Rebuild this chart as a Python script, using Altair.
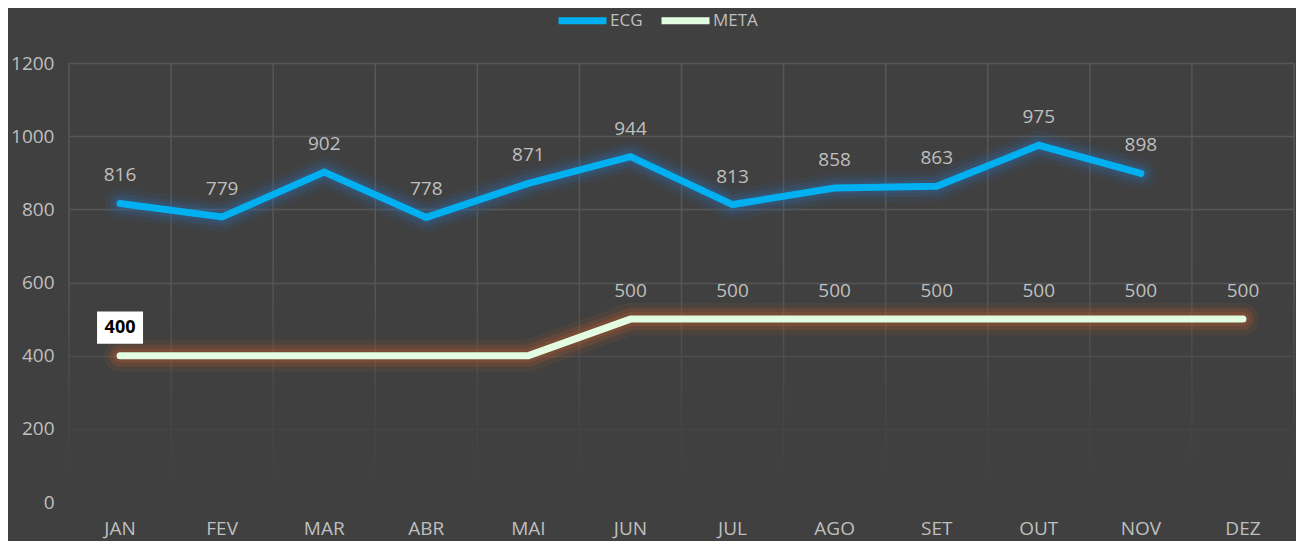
import altair as alt
import pandas as pd

months = ["JAN", "FEV", "MAR", "ABR", "MAI", "JUN", "JUL", "AGO", "SET", "OUT", "NOV", "DEZ"]
ecg = [816, 779, 902, 778, 871, 944, 813, 858, 863, 975, 898, None]
meta = [400, 400, 400, 400, 400, 500, 500, 500, 500, 500, 500, 500]
meta_label_shown = [True, False, False, False, False, True, True, True, True, True, True, True]
highlight_month = "JAN"
y_ticks = [0, 200, 400, 600, 800, 1000, 1200]

FONT = "Open Sans"
LABEL_COLOR = "#bfbfbf"
GRID = "#575757"
BG = "#404040"
W, H = 1225, 439

rows = []
for m, v in zip(months, ecg):
    rows.append({"mes": m, "serie": "ECG", "valor": v, "show": v is not None, "hl": False})
for m, v, s in zip(months, meta, meta_label_shown):
    rows.append({"mes": m, "serie": "META", "valor": v, "show": s, "hl": m == highlight_month})
df = pd.DataFrame(rows)
grid_df = pd.DataFrame({"mes": months})

xscale = alt.Scale(domain=months, type="band", paddingInner=0, paddingOuter=0)
yscale = alt.Scale(domain=[0, 1200])

def X(bp=0.5):
    return alt.X("mes:N", scale=xscale, bandPosition=bp, title=None)

Y = alt.Y("valor:Q", scale=yscale, title=None, axis=alt.Axis(values=y_ticks, format="d"))

base = alt.Chart(df)

vgrid_left = alt.Chart(grid_df).mark_rule(color=GRID, strokeWidth=1.5).encode(
    x=X(0), y=alt.value(0), y2=alt.value(H))
vgrid_right = alt.Chart(grid_df[grid_df.mes == months[-1]]).mark_rule(color=GRID, strokeWidth=1.5).encode(
    x=X(1), y=alt.value(0), y2=alt.value(H))

fade = alt.Chart(pd.DataFrame({"k": [0]})).mark_rect(
    color=alt.LinearGradient(
        gradient="linear", x1=0, x2=0, y1=0, y2=1,
        stops=[
            alt.GradientStop(color="rgba(64,64,64,0)", offset=0),
            alt.GradientStop(color="rgba(64,64,64,0)", offset=0.45),
            alt.GradientStop(color="rgba(64,64,64,0.45)", offset=0.67),
            alt.GradientStop(color="rgba(64,64,64,0.8)", offset=0.83),
            alt.GradientStop(color="rgba(64,64,64,1)", offset=0.97),
        ],
    )
).encode(x=alt.value(-2), x2=alt.value(W + 2), y=alt.value(0), y2=alt.value(H + 2))

ecg_df = df[df.serie == "ECG"]
meta_df = df[df.serie == "META"]

def glow(data, color, width, op):
    return alt.Chart(data).mark_line(color=color, strokeWidth=width, opacity=op,
                                     strokeCap="round", strokeJoin="round").encode(x=X(), y=Y)

glows = [
    glow(meta_df, "#c0612a", 32, 0.10),
    glow(meta_df, "#c0612a", 22, 0.18),
    glow(meta_df, "#c0612a", 14, 0.22),
    glow(ecg_df, "#2a6fb0", 30, 0.10),
    glow(ecg_df, "#2a6fb0", 20, 0.18),
    glow(ecg_df, "#2a6fb0", 13, 0.22),
]

lines = base.mark_line(strokeWidth=7, strokeCap="round", strokeJoin="miter").encode(
    x=X(), y=Y,
    color=alt.Color("serie:N",
                    scale=alt.Scale(domain=["ECG", "META"], range=["#00b0f0", "#e2fde2"]),
                    legend=alt.Legend(title=None, orient="none", legendX=486, legendY=-70,
                                      direction="horizontal", symbolType="stroke", symbolSize=2304,
                                      symbolStrokeWidth=7, labelFont=FONT, labelFontSize=17,
                                      labelColor=LABEL_COLOR, columnPadding=4, labelOffset=0)),
    detail="serie:N",
)

labels = base.transform_filter("datum.show && !datum.hl").mark_text(
    font=FONT, fontSize=19, color=LABEL_COLOR, dy=-28, baseline="middle"
).encode(x=X(), y=Y, text=alt.Text("valor:Q", format="d"))

hl_df = df[df.hl]
box = alt.Chart(hl_df).mark_point(
    shape="M-1,-0.7L1,-0.7L1,0.7L-1,0.7Z", size=2116, filled=True, fill="white", opacity=1,
    yOffset=-28, strokeWidth=0
).encode(x=X(), y=Y)
box_text = alt.Chart(hl_df).mark_text(
    font=FONT, fontSize=18, fontWeight="bold", color="black", dy=-28, baseline="middle"
).encode(x=X(), y=Y, text=alt.Text("valor:Q", format="d"))

chart = alt.layer(
    vgrid_left, vgrid_right, fade, *glows, lines, labels, box, box_text
).properties(
    width=W, height=H,
    autosize=alt.AutoSizeParams(type="none"),
    padding={"left": 61, "top": 55, "right": 2, "bottom": 39},
    background=BG,
).configure_view(stroke=None).configure_axisX(
    grid=False, ticks=False, domain=False, labelFont=FONT, labelFontSize=19,
    labelColor=LABEL_COLOR, labelPadding=17, labelAngle=0,
).configure_axisY(
    grid=True, gridColor=GRID, gridWidth=1.5, ticks=False, domain=False, labelFont=FONT,
    labelFontSize=19, labelColor=LABEL_COLOR, labelPadding=15,
)

chart.save("out.html", embed_options={"renderer": "svg", "actions": False})
